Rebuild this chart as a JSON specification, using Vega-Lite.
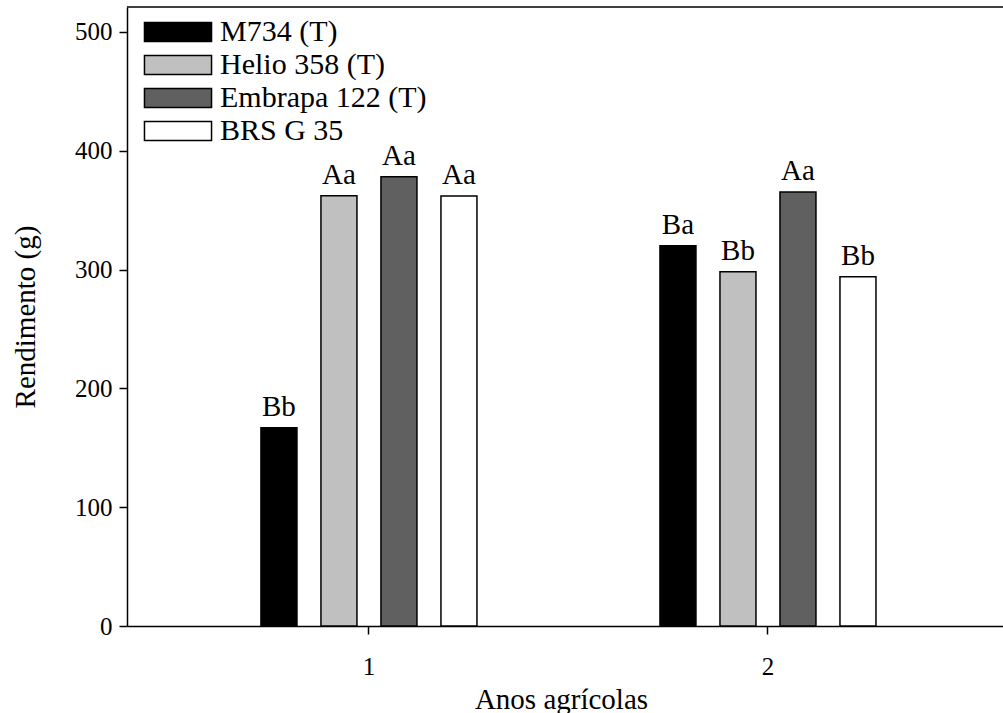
{
  "$schema": "https://vega.github.io/schema/vega-lite/v6.json",
  "autosize": {"type": "none"},
  "padding": {"left": 127, "top": 7, "right": 0, "bottom": 87},
  "width": 920,
  "height": 619,
  "background": "white",
  "config": {
    "font": "Liberation Serif",
    "view": {"stroke": null},
    "axis": {
      "grid": false,
      "domainColor": "black",
      "domainWidth": 1.5,
      "tickColor": "black",
      "tickWidth": 1.5,
      "tickSize": 8,
      "labelColor": "black",
      "titleColor": "black",
      "labelFontSize": 25,
      "titleFontWeight": "normal",
      "labelFont": "Liberation Serif",
      "titleFont": "Liberation Serif"
    },
    "legend": {"labelFont": "Liberation Serif"}
  },
  "data": {
    "values": [
      {"ano": "1", "cultivar": "M734 (T)", "rend": 166.9, "letra": "Bb"},
      {"ano": "1", "cultivar": "Helio 358 (T)", "rend": 362.2, "letra": "Aa"},
      {"ano": "1", "cultivar": "Embrapa 122 (T)", "rend": 378.2, "letra": "Aa"},
      {"ano": "1", "cultivar": "BRS G 35", "rend": 362.0, "letra": "Aa"},
      {"ano": "2", "cultivar": "M734 (T)", "rend": 320.0, "letra": "Ba"},
      {"ano": "2", "cultivar": "Helio 358 (T)", "rend": 298.2, "letra": "Bb"},
      {"ano": "2", "cultivar": "Embrapa 122 (T)", "rend": 365.3, "letra": "Aa"},
      {"ano": "2", "cultivar": "BRS G 35", "rend": 294.0, "letra": "Bb"}
    ]
  },
  "layer": [
    {
      "mark": {"type": "bar", "stroke": "black", "strokeWidth": 1.5},
      "encoding": {
        "x": {
          "field": "ano",
          "type": "ordinal",
          "scale": {"paddingInner": 0.3985, "paddingOuter": 0.3521, "align": 0.434},
          "axis": {"labelAngle": 0, "labelPadding": 20, "title": "Anos agrícolas", "titleFontSize": 29, "titlePadding": 6, "titleX": 434, "titleAlign": "center"}
        },
        "xOffset": {
          "field": "cultivar",
          "type": "nominal",
          "sort": ["M734 (T)", "Helio 358 (T)", "Embrapa 122 (T)", "BRS G 35"],
          "scale": {"paddingInner": 0.4, "paddingOuter": 0.2}
        },
        "y": {
          "field": "rend",
          "type": "quantitative",
          "scale": {"domain": [0, 521], "nice": false},
          "axis": {"values": [0, 100, 200, 300, 400, 500], "labelPadding": 7, "title": "Rendimento (g)", "titleFontSize": 29, "titlePadding": 34}
        },
        "fill": {
          "field": "cultivar",
          "type": "nominal",
          "sort": ["M734 (T)", "Helio 358 (T)", "Embrapa 122 (T)", "BRS G 35"],
          "scale": {
            "domain": ["M734 (T)", "Helio 358 (T)", "Embrapa 122 (T)", "BRS G 35"],
            "range": ["#000000", "#c0c0c0", "#606060", "#ffffff"]
          },
          "legend": {
            "title": null,
            "orient": "none",
            "legendX": 36,
            "legendY": 10,
            "symbolType": "M-3.53,-1H3.53V1H-3.53Z",
            "symbolSize": 361,
            "symbolStrokeColor": "black",
            "symbolStrokeWidth": 1.5,
            "symbolOpacity": 1,
            "labelFontSize": 30,
            "labelColor": "black",
            "labelOffset": 27,
            "rowPadding": 3,
            "labelLimit": 400
          }
        }
      }
    },
    {
      "mark": {"type": "text", "baseline": "alphabetic", "dy": -12, "fontSize": 29, "color": "black", "font": "Liberation Serif"},
      "encoding": {
        "x": {"field": "ano", "type": "ordinal"},
        "xOffset": {"field": "cultivar", "type": "nominal", "sort": ["M734 (T)", "Helio 358 (T)", "Embrapa 122 (T)", "BRS G 35"]},
        "y": {"field": "rend", "type": "quantitative"},
        "text": {"field": "letra"}
      }
    },
    {
      "data": {"values": [{"topo": 521}]},
      "mark": {"type": "rule", "color": "black", "strokeWidth": 1.5},
      "encoding": {"y": {"field": "topo", "type": "quantitative"}}
    }
  ]
}
